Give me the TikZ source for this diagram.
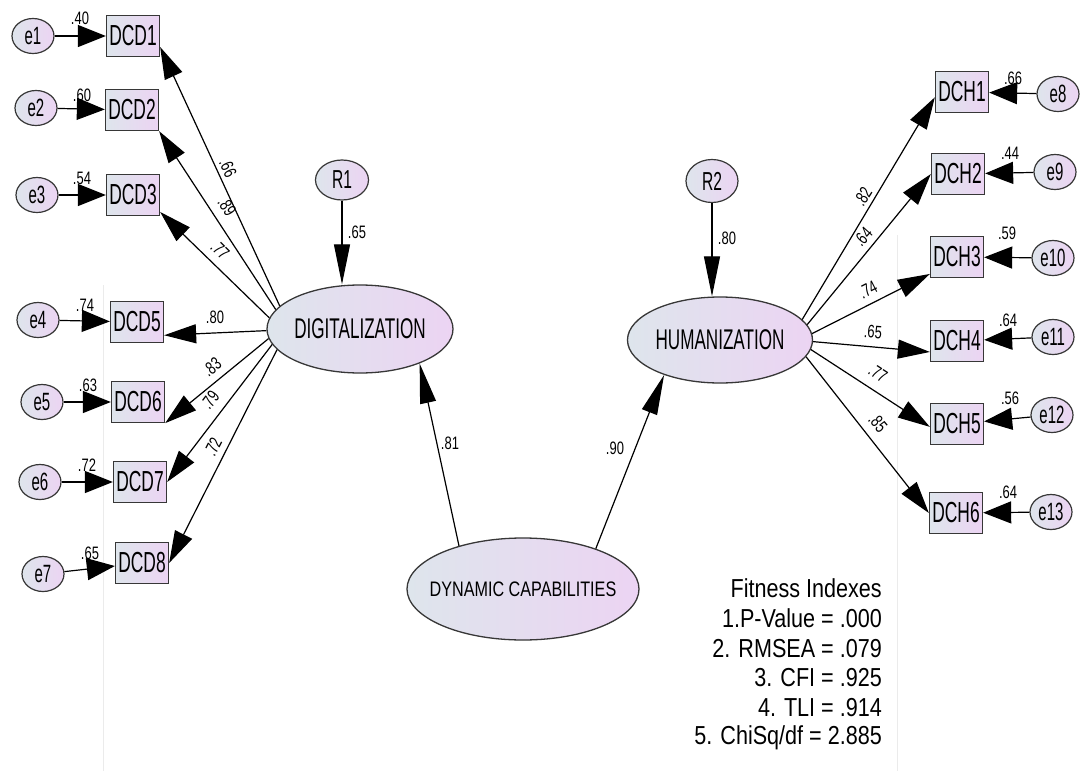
\documentclass[tikz,border=0pt]{standalone}
\usepackage{fontspec}
\setmainfont{Liberation Sans}
\newfontfamily\fA[FakeStretch=0.6]{Liberation Sans}
\newfontfamily\fB[FakeStretch=0.77]{Liberation Sans}
\newfontfamily\fC[FakeStretch=0.83]{Liberation Sans}
\newfontfamily\fD[FakeStretch=0.72]{Liberation Sans}
\usetikzlibrary{arrows.meta,shapes.geometric,calc}

\definecolor{lvL}{RGB}{222,229,236}
\definecolor{lvR}{RGB}{236,212,243}
\definecolor{rim}{RGB}{55,55,55}

\tikzset{
  obs/.style={draw=rim, line width=1.3pt, rectangle, minimum width=53pt,
    minimum height=41pt, inner sep=0pt, left color=lvL, right color=lvR,
    font=\fA\fontsize{29}{29}\selectfont},
  err/.style={draw=rim, line width=1.2pt, ellipse, minimum width=42pt,
    minimum height=35pt, inner sep=0pt, left color=lvL, right color=lvR,
    font=\fA\fontsize{25}{25}\selectfont},
  lat/.style={draw=rim, line width=1.3pt, ellipse, inner sep=0pt,
    left color=lvL, right color=lvR, font=\fA\fontsize{28.5}{28.5}\selectfont},
  ln/.style={line width=1.2pt, -{Triangle[length=32pt,width=19pt]}},
  eln/.style={line width=1.2pt, -{Triangle[length=28pt,width=22pt]}},
  rln/.style={line width=1.2pt, -{Triangle[length=40pt,width=16pt]}},
  coef/.style={font=\fD\fontsize{18}{18}\selectfont, inner sep=0pt},
  fitline/.style={font=\fC\fontsize{26}{26}\selectfont, anchor=base east, inner sep=0pt},
  faint/.style={draw=black!8, line width=0.8pt},
}

\begin{document}
\begin{tikzpicture}[x=1pt,y=-1pt]
\useasboundingbox[fill=white] (0,0) rectangle (1080,771);

% faint background rules
\draw[faint] (103,285) -- (103,771);
\draw[faint] (897,235) -- (897,771);

% latent variables
\node[lat, minimum width=186pt, minimum height=88pt] (DIG) at (360,329) {\makebox[0pt]{DIGITALIZATION}};
\node[lat, minimum width=185pt, minimum height=86pt] (HUM) at (720,340) {\makebox[0pt]{HUMANIZATION}};
\node[lat, minimum width=232pt, minimum height=102pt, font=\fB\fontsize{21}{21}\selectfont] (DC) at (523,589) {\makebox[0pt]{DYNAMIC CAPABILITIES}};

% residuals of the latent variables
\node[err, minimum width=53pt, minimum height=40pt, font=\fA\fontsize{26}{26}\selectfont] (R1) at (342,180) {R1};
\node[err, minimum width=52pt, minimum height=43pt, font=\fA\fontsize{26}{26}\selectfont] (R2) at (712,181) {R2};

% indicators of DIGITALIZATION
\node[obs] (DCD1) at (133,36) {DCD1};
\node[obs] (DCD2) at (132,110) {DCD2};
\node[obs] (DCD3) at (133,195) {DCD3};
\node[obs] (DCD5) at (137,322) {DCD5};
\node[obs] (DCD6) at (138,402) {DCD6};
\node[obs] (DCD7) at (140,482) {DCD7};
\node[obs] (DCD8) at (142,563) {DCD8};

% indicators of HUMANIZATION
\node[obs] (DCH1) at (962,92) {DCH1};
\node[obs] (DCH2) at (958,174) {DCH2};
\node[obs] (DCH3) at (957,257) {DCH3};
\node[obs] (DCH4) at (957,341) {DCH4};
\node[obs] (DCH5) at (957,424) {DCH5};
\node[obs] (DCH6) at (956,513) {DCH6};

% measurement errors
\node[err] (e1) at (33,36) {e1};
\node[err] (e2) at (36,108) {e2};
\node[err] (e3) at (37,195) {e3};
\node[err] (e4) at (38,320) {e4};
\node[err] (e5) at (42,402) {e5};
\node[err] (e6) at (40,482) {e6};
\node[err] (e7) at (43,574) {e7};
\node[err] (e8) at (1058,94) {e8};
\node[err] (e9) at (1055,172) {e9};
\node[err] (e10) at (1053,258) {e10};
\node[err] (e11) at (1053,337) {e11};
\node[err] (e12) at (1052,415) {e12};
\node[err] (e13) at (1051,512) {e13};

% error paths
\foreach \e/\v in {e1/DCD1,e2/DCD2,e3/DCD3,e4/DCD5,e5/DCD6,e6/DCD7,e7/DCD8,
                   e8/DCH1,e9/DCH2,e10/DCH3,e11/DCH4,e12/DCH5,e13/DCH6}
  \draw[eln] (\e) -- (\v);

% loadings on DIGITALIZATION
\draw[ln] (DIG.164) -- (DCD1.-22);
\draw[ln] (DIG.167) -- (DCD2.south east);
\draw[ln] (DIG.173) -- (DCD3.-32);
\draw[ln] (DIG.181) -- (DCD5.-26);
\draw[ln] (DIG.186) -- (DCD6.south east);
\draw[ln] (DIG.190) -- (DCD7.east);
\draw[ln] (DIG.194) -- (DCD8.east);

% loadings on HUMANIZATION
\draw[ln] (HUM.14) -- (DCH1.191);
\draw[ln] (HUM.10) -- (DCH2.west);
\draw[ln] (HUM.4) -- (DCH3.212);
\draw[ln] (HUM.-1) -- (DCH4.202);
\draw[ln] (HUM.-6) -- (DCH5.186);
\draw[ln] (HUM.-11) -- (DCH6.west);

% structural paths
\draw[rln] (R1.south) -- (R1.south |- DIG.north);
\draw[rln] (R2.south) -- (R2.south |- HUM.north);
\draw[rln] (DC.146) -- (DIG.-30);
\draw[rln] (DC.29) -- (HUM.212.5);

% coefficients
\node[coef] at (357,232) {.65};
\node[coef] at (727,238) {.80};
\node[coef] at (450,443) {.81};
\node[coef] at (615,448) {.90};

\node[coef, rotate=-65] at (228,168) {.66};
\node[coef, rotate=-57] at (227,207) {.89};
\node[coef, rotate=-45] at (220,250) {.77};
\node[coef] at (215,317) {.80};
\node[coef, rotate=38] at (212,367) {.83};
\node[coef, rotate=53] at (210,400) {.79};
\node[coef, rotate=63] at (213,447) {.72};

\node[coef, rotate=58] at (863,197) {.82};
\node[coef, rotate=48] at (863,237) {.64};
\node[coef, rotate=27] at (868,290) {.74};
\node[coef, rotate=-4] at (873,332) {.65};
\node[coef, rotate=-33] at (878,373) {.77};
\node[coef, rotate=-50] at (878,423) {.85};

\node[coef] at (80,18) {.40};
\node[coef] at (82,95) {.60};
\node[coef] at (82,178) {.54};
\node[coef] at (85,305) {.74};
\node[coef] at (88,385) {.63};
\node[coef] at (87,465) {.72};
\node[coef] at (90,553) {.65};
\node[coef] at (1013,78) {.66};
\node[coef] at (1010,153) {.44};
\node[coef] at (1007,233) {.59};
\node[coef] at (1008,320) {.64};
\node[coef] at (1010,398) {.56};
\node[coef] at (1008,492) {.64};

% fit summary
\node[fitline] (fit0) at (882,597) {Fitness Indexes};
\node[fitline] (fit1) at (882,627) {1.P-Value = .000};
\node[fitline] (fit2) at (882,657) {2. RMSEA = .079};
\node[fitline] (fit3) at (882,686) {3. CFI = .925};
\node[fitline] (fit4) at (882,716) {4. TLI = .914};
\node[fitline] (fit5) at (882,744) {5. ChiSq/df = 2.885};
\end{tikzpicture}
\end{document}
